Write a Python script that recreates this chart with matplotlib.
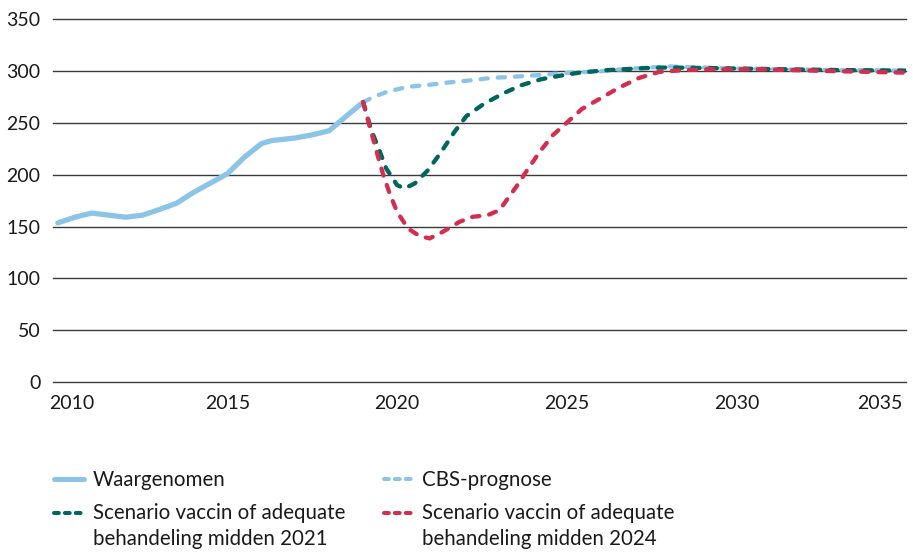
import matplotlib
matplotlib.use("Agg")
from matplotlib import pyplot as plt
from matplotlib.lines import Line2D
import matplotlib.transforms as mtransforms

# observed (Waargenomen)
obs_years = [2010, 2010.5, 2011, 2011.5, 2012, 2012.5, 2013, 2013.5, 2014, 2014.5,
             2015, 2015.5, 2016, 2016.3, 2016.6, 2017, 2017.5, 2018, 2018.5, 2019]
obs_vals = [153.5, 159, 163, 161, 159, 161, 166.5, 172.5, 183, 192,
            201, 217, 230, 233, 234, 235.5, 238.5, 242.5, 256.5, 270]

# CBS-prognose
cbs_years = [2019, 2019.3, 2019.7, 2020.3, 2021, 2021.5, 2022.2, 2022.8, 2023.4,
             2024.1, 2024.8, 2025.3, 2025.9, 2026.5, 2027.2, 2028, 2029, 2030,
             2031, 2032, 2033, 2034, 2035]
cbs_vals = [270, 275, 280, 284.8, 287, 289, 291.2, 293.5, 294.5,
            296, 297.7, 299, 299.5, 301.5, 303, 304.5, 303.5, 302.5,
            302, 301.5, 301, 300.8, 300.5]

# Scenario vaccin midden 2021
s21_years = [2019, 2019.24, 2019.46, 2019.68, 2020, 2020.22, 2020.52, 2020.91,
             2021.3, 2021.69, 2022.04, 2022.53, 2023.12, 2023.66, 2024.25,
             2024.88, 2025.32, 2026.16, 2027.34, 2028, 2029, 2030, 2031,
             2032, 2033, 2034, 2035]
s21_vals = [270, 243, 225, 206, 190, 186.8, 191.6, 204.4,
            222, 241.4, 256.5, 267.8, 278.4, 286.4, 292.2,
            296, 298.3, 300.9, 303, 303.5, 303, 302.5, 302,
            301.5, 301, 300.8, 300.5]

# Scenario vaccin midden 2024
s24_years = [2019, 2019.14, 2019.29, 2019.44, 2019.58, 2019.78, 2020, 2020.32,
             2020.66, 2020.96, 2021.35, 2021.84, 2022.23, 2022.67, 2023.02,
             2023.26, 2023.51, 2023.8, 2024.2, 2024.59, 2025.08, 2025.45,
             2026.55, 2027.14, 2027.73, 2028.42, 2029.2, 2030.7, 2032.6, 2035]
s24_vals = [270, 252.6, 235, 217.3, 201.2, 182, 164.2, 148.2,
            140.8, 138.6, 145, 154.6, 159.4, 161, 165.9,
            177, 188.3, 202.8, 222, 238.2, 252.6, 263.5,
            284.2, 293.5, 299.3, 300.9, 301.8, 301.8, 300.2, 298.5]

label_obs = ["Waargenomen"]
label_cbs = ["CBS-prognose"]
label_s21 = ["Scenario vaccin of adequate", "behandeling midden 2021"]
label_s24 = ["Scenario vaccin of adequate", "behandeling midden 2024"]
tick_years = [2010, 2015, 2020, 2025, 2030, 2035]
y_ticks = [0, 50, 100, 150, 200, 250, 300, 350]

light_blue = "#8CC4E8"
teal = "#00665E"
red = "#D42E4E"

plt.rcParams["font.family"] = ["Lato", "DejaVu Sans"]

fig = plt.figure(figsize=(9.13, 5.53), dpi=100)
ax = fig.add_axes([0.0581, 0.3092, 0.9343, 0.6559])

dash = (1.7, 2.3)
ax.plot(obs_years, obs_vals, color=light_blue, lw=3.8, solid_capstyle="round",
        solid_joinstyle="round", zorder=3)
ax.plot(cbs_years, cbs_vals, color=light_blue, lw=3.1, dashes=dash,
        dash_capstyle="round", zorder=3)
ax.plot(s21_years, s21_vals, color=teal, lw=3.1, dashes=dash,
        dash_capstyle="round", zorder=4)
ax.plot(s24_years, s24_vals, color=red, lw=3.1, dashes=dash,
        dash_capstyle="round", zorder=5)

ax.set_xlim(2009.86, 2035.0)
ax.set_ylim(0, 350)
ax.set_yticks(y_ticks)
ax.set_xticks(tick_years)
ax.set_xticklabels([str(y) for y in tick_years])
ax.grid(axis="y", color="#3a3a3a", lw=1.0)
for gl in ax.get_ygridlines():
    gl.set_clip_on(False)
ax.set_axisbelow(True)
for s in ax.spines.values():
    s.set_visible(False)
ax.tick_params(length=0, labelsize=14, colors="#1a1a1a")
ax.tick_params(axis="y", pad=9)
ax.tick_params(axis="x", pad=9)

# keep end labels inside the plot like the original
xl = ax.get_xticklabels()
xl[0].set_transform(xl[0].get_transform() + mtransforms.ScaledTranslation(0.14, 0, fig.dpi_scale_trans))
xl[-1].set_transform(xl[-1].get_transform() + mtransforms.ScaledTranslation(-0.26, 0, fig.dpi_scale_trans))

# legend, drawn by hand so the handles sit on the first text line
W, H = 913.0, 553.0
def legend_entry(x0, x1, xt, y_handle, y_base, lines, **line_kw):
    fig.add_artist(Line2D([x0 / W, x1 / W], [1 - y_handle / H, 1 - y_handle / H],
                          transform=fig.transFigure, **line_kw))
    for i, txt in enumerate(lines):
        fig.text(xt / W, 1 - (y_base + 26 * i) / H, txt, fontsize=14.8,
                 color="#1a1a1a", va="baseline", ha="left")

leg_dash = (1.2, 1.5)
legend_entry(54, 84, 93, 479, 486.5, label_obs, color=light_blue, lw=3.6,
             solid_capstyle="round")
legend_entry(54, 83, 93, 512.5, 519, label_s21, color=teal, lw=2.9,
             dashes=leg_dash, dash_capstyle="round")
legend_entry(384, 412, 421.5, 479, 486.5, label_cbs, color=light_blue, lw=2.9,
             dashes=leg_dash, dash_capstyle="round")
legend_entry(384, 412, 421.5, 512.5, 519, label_s24, color=red, lw=2.9,
             dashes=leg_dash, dash_capstyle="round")

fig.savefig("out.png", dpi=100)
